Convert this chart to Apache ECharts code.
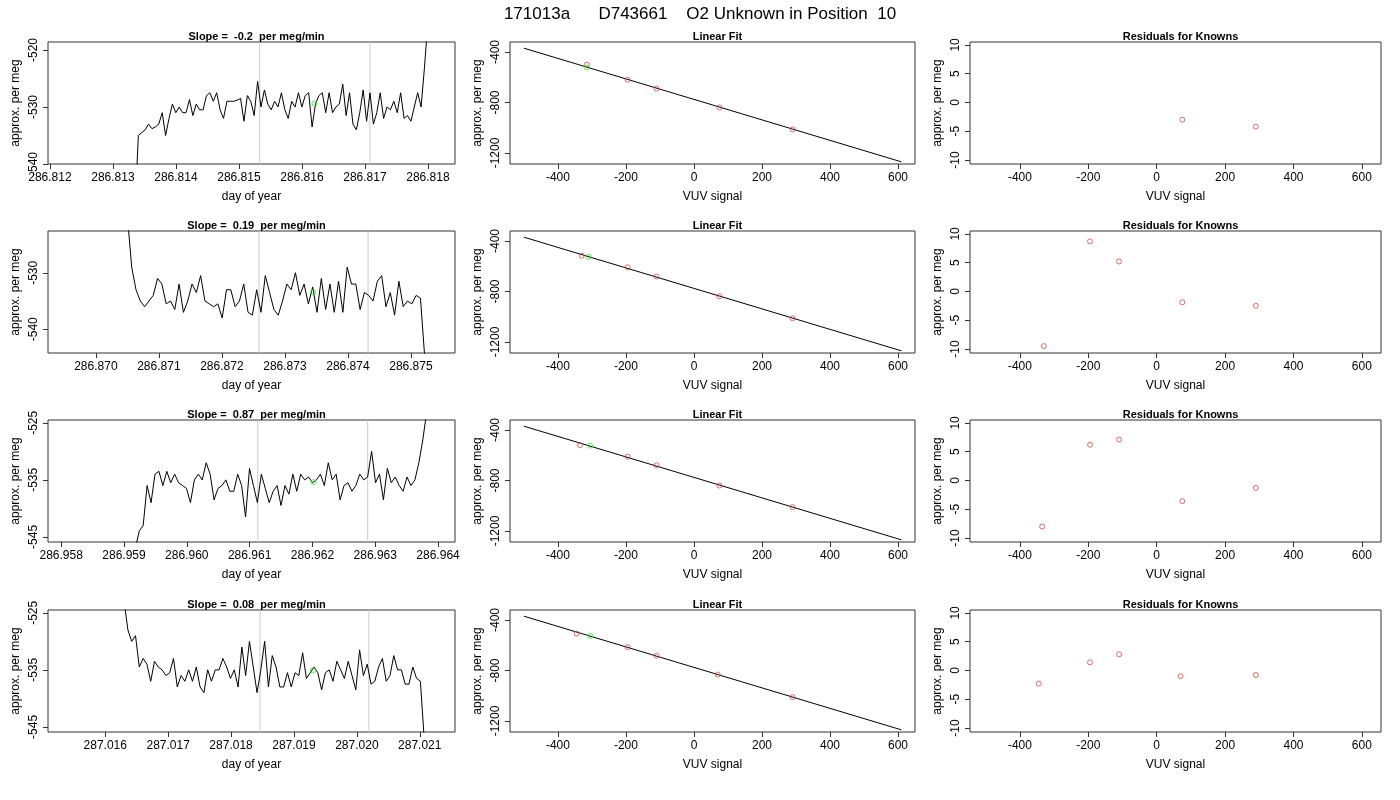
<!DOCTYPE html>
<html>
<head>
<meta charset="utf-8">
<script src="https://cdn.jsdelivr.net/npm/echarts@6/dist/echarts.min.js"></script>
<style>html,body{margin:0;background:#fff}#main{width:1400px;height:800px}</style>
</head>
<body>
<div id="main"></div>
<script>
var mainTitle = '171013a      D743661    O2 Unknown in Position  10';
var slopes = ['-0.2', '0.19', '0.87', '0.08'];

// time series: start time, end time, values (per meg)
var tsStart = [286.81335, 286.87050, 286.95918, 287.01630];
var tsEnd = [286.81800, 286.87522, 286.96382, 287.02107];
var ts1 = [-548,-535,-534.5,-534,-533,-533.8,-533.5,-533,-531,-535,-532,-529.5,-531,-530,-531,-531,-528.7,-531.5,-529.5,-530.5,-530.5,-528,-527.5,-529,-527.5,-530.5,-532,-529,-529,-529,-528.8,-528.5,-532.5,-528,-529,-531.5,-525.5,-530,-527,-529.5,-530.5,-529,-530,-527.5,-530.5,-532,-529,-530,-527.5,-530,-528,-527.5,-533.5,-529.5,-528,-527.5,-531,-527.5,-531,-530,-529.5,-526,-531.5,-527.5,-533,-534,-531,-527,-532.5,-527.5,-533,-531,-527.5,-532,-530,-530.5,-529,-531,-527.5,-532,-531.5,-532.5,-530,-527.5,-530,-523,-515];
var ts2 = [-520,-529,-533,-535,-536,-535,-534,-531,-532,-535.5,-535,-536.5,-532,-537,-535,-532,-533.5,-530.5,-535,-535.5,-536,-535.5,-538,-533,-533,-536,-535,-532,-537,-537.5,-533,-537,-530.5,-533.5,-536.5,-537.5,-535,-532,-533,-530,-534,-532,-535.5,-532.5,-537,-531,-536.5,-532,-537,-531.5,-537,-529,-532,-532,-536.5,-533.5,-534,-535,-531.5,-530.5,-536,-533.5,-537.5,-531.5,-536,-535,-535.5,-534,-534.5,-545];
var ts3 = [-547,-544,-543,-536,-539,-534,-533.5,-536,-533.5,-535.5,-534,-535.5,-536,-536.5,-539,-535,-534,-535,-532,-534,-538.5,-536.5,-536,-535,-537,-537,-534,-536,-541.5,-533,-536,-539,-534,-536.5,-539,-537,-536,-539.5,-536,-537.5,-534,-537,-534,-535,-534.5,-535.5,-535,-534,-536,-532,-535,-534,-538.5,-536,-535.5,-537,-536,-534,-535,-534.5,-530,-535.5,-534,-538.5,-533,-535.5,-534.5,-536,-537,-534.5,-536,-535,-532,-528,-523];
var ts4 = [-523,-528,-530,-529,-534.5,-533,-534,-537,-533.5,-534.5,-535,-536,-535.5,-533,-538,-536,-537,-535,-537,-534.5,-538,-539,-535,-537,-535,-535,-533,-534.5,-536.5,-535,-538,-531,-536,-530,-534.5,-539,-535,-530,-538,-532.5,-534.5,-538,-538,-535.5,-538,-535.5,-536,-532,-536.5,-535.5,-534.5,-535.5,-538.5,-535.5,-535,-537,-533.5,-535,-536.5,-533.5,-536,-538.5,-531.5,-536,-534,-537.5,-537,-534.5,-533,-537,-536,-532.5,-535,-535,-537.5,-537.5,-534.5,-536.5,-537,-547];
var tsValues = [ts1, ts2, ts3, ts4];
var greenT = [286.81620, 286.87345, 286.96202, 287.01930];
var greenY = [-529.4, -533.5, -535.4, -535.1];
var grayLines = [[286.81533, 286.81708], [286.87259, 286.87432], [286.96113, 286.96288], [287.01846, 287.02019]];
var tsXMin = [286.81197, 286.86924, 286.95779, 287.01509];
var tsXMax = [286.81843, 286.87570, 286.96427, 287.02156];
var tsYMin = [-540, -544.2, -545.9, -545.9];
var tsYMax = [-518.6, -522.6, -524.5, -524.5];
var tsXTicks = [
  [286.812, 286.813, 286.814, 286.815, 286.816, 286.817, 286.818],
  [286.870, 286.871, 286.872, 286.873, 286.874, 286.875],
  [286.958, 286.959, 286.960, 286.961, 286.962, 286.963, 286.964],
  [287.016, 287.017, 287.018, 287.019, 287.020, 287.021]
];
var tsYTicks = [[-540, -530, -520], [-540, -530], [-545, -535, -525], [-545, -535, -525]];

// linear fit: fitted line ends, knowns and the unknown
var fitX = [-500, 610];
var fitY = [[-370, -1270], [-370, -1270], [-370, -1270], [-370, -1270]];
var knownX = [[-315, -195, -110, 75, 290], [-330, -195, -110, 75, 290], [-335, -195, -110, 75, 290], [-345, -195, -110, 70, 290]];
var knownY = [[-500, -620, -690, -840, -1013], [-517, -608, -681, -838, -1012], [-520, -611, -679, -840, -1011], [-508, -615, -683, -832, -1010]];
var unkX = [-315, -310, -305, -305];
var unkY = [-523, -526, -524, -526];

// residuals
var resX = [[75, 290], [-330, -195, -110, 75, 290], [-335, -195, -110, 75, 290], [-345, -195, -110, 70, 290]];
var resY = [[-3, -4.2], [-9.5, 8.7, 5.2, -1.9, -2.5], [-8, 6.2, 7.1, -3.6, -1.3], [-2.3, 1.4, 2.8, -1, -0.8]];

var fitXTicks = [-400, -200, 0, 200, 400, 600];
var fitYTicks = [-1200, -800, -400];
var resYTicks = [-10, -5, 0, 5, 10];

var font = 'Liberation Sans, Arial, sans-serif';
var rowTop = [42, 231, 420, 610];
var colLeft = [48, 510, 970];
var colWidth = [407, 405, 411];
var H = 122;
var red = '#d04848', green = '#22ee22';

var grids = [], xAxes = [], yAxes = [], series = [], titles = [];
titles.push({text: mainTitle, left: 'center', top: 1, textStyle: {fontFamily: font, fontSize: 17, fontWeight: 'normal', color: '#000'}});

function addPanel(col, row, title, xName, xr, yr, xt, yt) {
  var i = grids.length;
  grids.push({left: colLeft[col], top: rowTop[row], width: colWidth[col], height: H, show: true, borderColor: '#333', borderWidth: 1, backgroundColor: 'transparent'});
  titles.push({text: title, left: colLeft[col] + colWidth[col] / 2, textAlign: 'center', top: rowTop[row] - 16,
    textStyle: {fontFamily: font, fontSize: 11, fontWeight: 'bold', color: '#000'}});
  xAxes.push({type: 'value', gridIndex: i, min: xr[0], max: xr[1], name: xName, nameLocation: 'middle', nameGap: 27,
    nameTextStyle: {fontFamily: font, fontSize: 12, color: '#000'},
    axisLine: {show: false, onZero: false}, splitLine: {show: false},
    axisTick: {show: true, length: 5, lineStyle: {color: '#333'}, customValues: xt},
    axisLabel: {fontFamily: font, fontSize: 12, color: '#000', margin: 8, customValues: xt,
      formatter: function (v) { return xt[0] > 200 ? v.toFixed(3) : String(Math.round(v)); }}});
  yAxes.push({type: 'value', gridIndex: i, min: yr[0], max: yr[1], name: 'approx. per meg', nameLocation: 'middle', nameGap: 26,
    nameTextStyle: {fontFamily: font, fontSize: 12, color: '#000'},
    axisLine: {show: false, onZero: false}, splitLine: {show: false},
    axisTick: {show: true, length: 5, lineStyle: {color: '#333'}, customValues: yt},
    axisLabel: {fontFamily: font, fontSize: 12, color: '#000', rotate: 90, margin: 8, customValues: yt,
      formatter: function (v) { return String(Math.round(v)); }}});
  return i;
}

function dots(g, data, color) {
  series.push({type: 'scatter', xAxisIndex: g, yAxisIndex: g, data: data, symbol: 'circle', symbolSize: 5,
    itemStyle: {color: 'rgba(0,0,0,0)', borderColor: color, borderWidth: 1}, animation: false, z: 5});
}

for (var r = 0; r < 4; r++) {
  // time series panel
  var g = addPanel(0, r, 'Slope =  ' + slopes[r] + '  per meg/min', 'day of year', [tsXMin[r], tsXMax[r]], [tsYMin[r], tsYMax[r]], tsXTicks[r], tsYTicks[r]);
  grayLines[r].forEach(function (t) {
    series.push({type: 'line', xAxisIndex: g, yAxisIndex: g, data: [[t, tsYMin[r]], [t, tsYMax[r]]], showSymbol: false,
      lineStyle: {color: '#cccccc', width: 1}, animation: false, z: 1});
  });
  var vals = tsValues[r], pts = [];
  var step = (tsEnd[r] - tsStart[r]) / (vals.length - 1);
  for (var k = 0; k < vals.length; k++) pts.push([tsStart[r] + k * step, vals[k]]);
  series.push({type: 'line', xAxisIndex: g, yAxisIndex: g, data: pts, showSymbol: false, animation: false,
    lineStyle: {color: '#000', width: 1}, z: 2});
  dots(g, [[greenT[r], greenY[r]]], green);

  // linear fit panel
  g = addPanel(1, r, 'Linear Fit', 'VUV signal', [-541, 650], [-1287, -321], fitXTicks, fitYTicks);
  series.push({type: 'line', xAxisIndex: g, yAxisIndex: g, data: [[fitX[0], fitY[r][0]], [fitX[1], fitY[r][1]]], showSymbol: false,
    lineStyle: {color: '#000', width: 1}, animation: false});
  dots(g, knownX[r].map(function (x, j) { return [x, knownY[r][j]]; }), red);
  dots(g, [[unkX[r], unkY[r]]], green);

  // residuals panel
  g = addPanel(2, r, 'Residuals for Knowns', 'VUV signal', [-546, 656], [-10.7, 10.5], fitXTicks, resYTicks);
  dots(g, resX[r].map(function (x, j) { return [x, resY[r][j]]; }), red);
}

var chart = echarts.init(document.getElementById('main'));
chart.setOption({backgroundColor: '#fff', animation: false, title: titles, grid: grids, xAxis: xAxes, yAxis: yAxes, series: series});
</script>
</body>
</html>
